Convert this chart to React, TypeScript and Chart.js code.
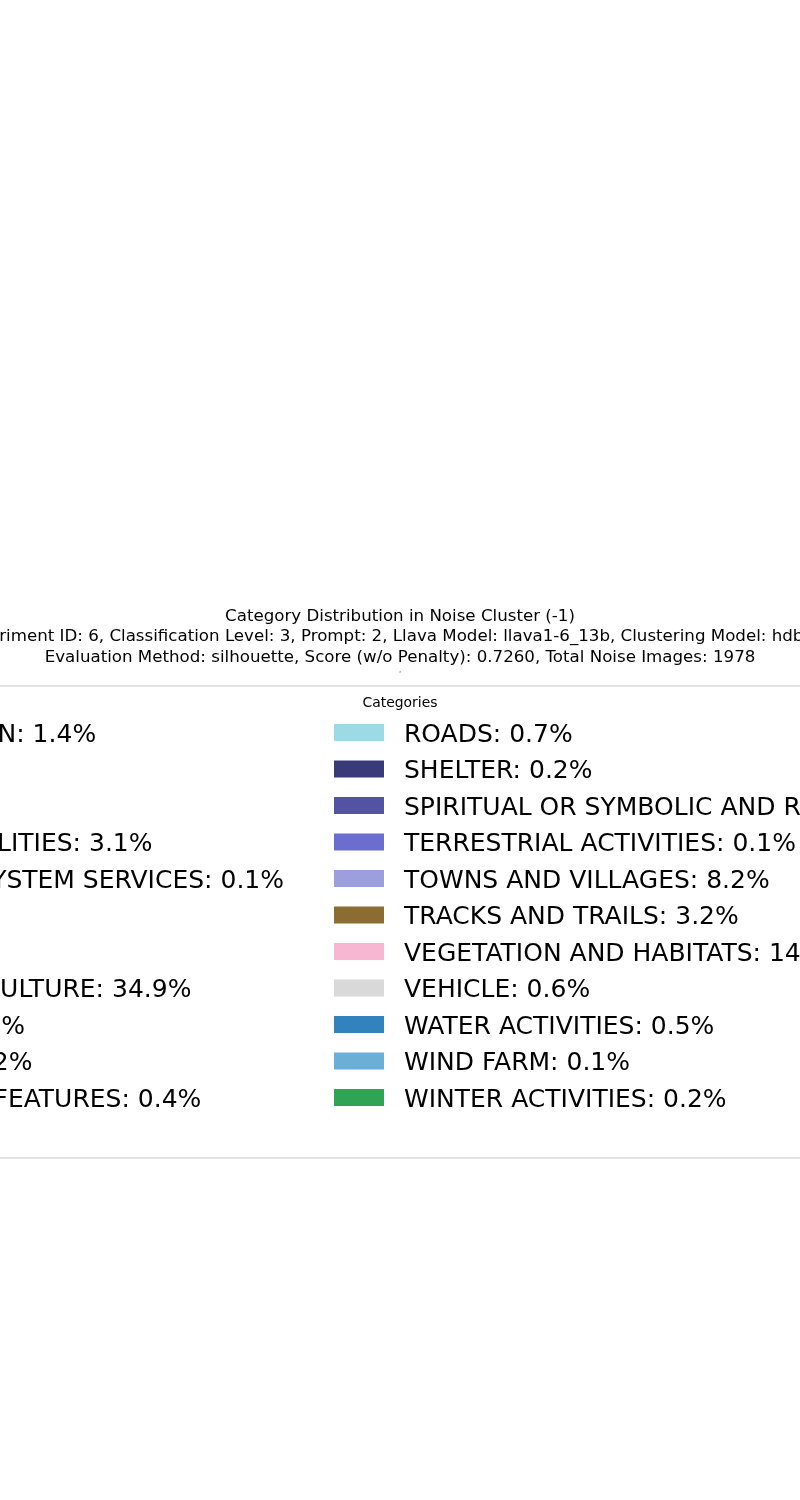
import React, { useEffect, useRef } from "react";
import { Chart, registerables } from "chart.js";

Chart.register(...registerables);

const categories = [
  "ACCOMMODATION",
  "BEACHES",
  "BRIDGES",
  "COMMUNAL FACILITIES",
  "CULTURAL ECOSYSTEM SERVICES",
  "DAMS",
  "FARMS",
  "HERITAGE AND CULTURE",
  "LANDMARKS",
  "MONUMENTS",
  "PHYSICAL LAND FEATURES",
  "ROADS",
  "SHELTER",
  "SPIRITUAL OR SYMBOLIC AND RELIGIOUS SITES",
  "TERRESTRIAL ACTIVITIES",
  "TOWNS AND VILLAGES",
  "TRACKS AND TRAILS",
  "VEGETATION AND HABITATS",
  "VEHICLE",
  "WATER ACTIVITIES",
  "WIND FARM",
  "WINTER ACTIVITIES",
];

const percentages = [
  1.4, 4.3, 21.9, 3.1, 0.1, 0.3, 2.4, 34.9, 0.5, 2.2, 0.4,
  0.7, 0.2, 0.4, 0.1, 8.2, 3.2, 14.6, 0.6, 0.5, 0.1, 0.2,
];

const colors = [
  "#1f77b4", "#aec7e8", "#ff7f0e", "#ffbb78", "#2ca02c", "#98df8a",
  "#d62728", "#9ecae1", "#9467bd", "#c5b0d5", "#8c564b",
  "#9edae5", "#393b79", "#5254a3", "#6b6ecf", "#9c9ede", "#8c6d31",
  "#f7b6d2", "#d9d9d9", "#3182bd", "#6baed6", "#31a354",
];

const titleLines = [
  "Category Distribution in Noise Cluster (-1)",
  "Experiment ID: 6, Classification Level: 3, Prompt: 2, Llava Model: llava1-6_13b, Clustering Model: hdbscan",
  "Evaluation Method: silhouette, Score (w/o Penalty): 0.7260, Total Noise Images: 1978",
];

const legendTitle = "Categories";

const FONT = "'DejaVu Sans', sans-serif";

const overlayPlugin = {
  id: "overlay",
  afterDraw(chart: any) {
    const ctx = chart.ctx as CanvasRenderingContext2D;
    ctx.save();
    ctx.fillStyle = "#000";
    ctx.textAlign = "center";
    ctx.textBaseline = "alphabetic";
    ctx.font = `16.67px ${FONT}`;
    titleLines.forEach((t, i) => ctx.fillText(t, 400, 620.5 + i * 20.6));

    // legend frame
    ctx.strokeStyle = "rgba(204,204,204,0.8)";
    ctx.lineWidth = 1.4;
    ctx.strokeRect(-60, 686, 920, 472);

    ctx.font = `13.9px ${FONT}`;
    ctx.fillText(legendTitle, 400, 707);

    const labels: string[] = chart.data.labels.map(
      (c: string, i: number) =>
        `${c}: ${(chart.data.datasets[0].data[i] as number).toFixed(1)}%`
    );
    const bg: string[] = chart.data.datasets[0].backgroundColor;
    const perCol = Math.ceil(labels.length / 2);
    ctx.font = `25px ${FONT}`;
    ctx.textAlign = "left";
    const rightPatchX = 334;
    const leftTextEnd = rightPatchX - 50;
    let maxLeft = 0;
    for (let i = 0; i < perCol; i++) {
      maxLeft = Math.max(maxLeft, ctx.measureText(labels[i]).width);
    }
    const leftTextX = leftTextEnd - maxLeft;
    const leftPatchX = leftTextX - 70;
    labels.forEach((lab, i) => {
      const col = Math.floor(i / perCol);
      const row = i % perCol;
      const px = col === 0 ? leftPatchX : rightPatchX;
      const tx = col === 0 ? leftTextX : rightPatchX + 70;
      const top = 724 + row * 36.5;
      ctx.fillStyle = bg[i];
      ctx.fillRect(px, top, 50, 17);
      ctx.fillStyle = "#000";
      ctx.fillText(lab, tx, top + 17.7);
    });
    ctx.restore();
  },
};

export default function App() {
  const ref = useRef<HTMLCanvasElement>(null);
  useEffect(() => {
    if (!ref.current) return;
    const chart = new Chart(ref.current, {
      type: "pie",
      data: {
        labels: categories,
        datasets: [
          {
            data: percentages,
            backgroundColor: colors,
            borderWidth: 0,
          },
        ],
      },
      options: {
        responsive: false,
        animation: false,
        layout: { padding: { left: 399, right: 399, top: 671, bottom: 827 } },
        plugins: {
          legend: { display: false },
          title: { display: false },
          tooltip: { enabled: false },
        },
      },
      plugins: [overlayPlugin],
    });
    return () => chart.destroy();
  }, []);
  return (
    <div style={{ position: "absolute", left: 0, top: 0, width: 800, height: 1500, background: "#fff" }}>
      <canvas ref={ref} width={800} height={1500} />
    </div>
  );
}
